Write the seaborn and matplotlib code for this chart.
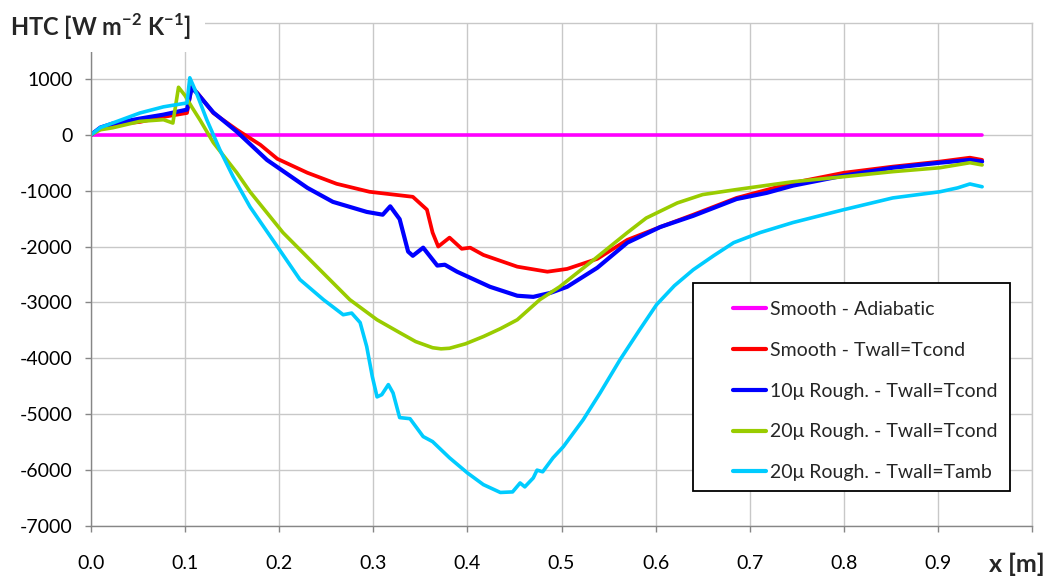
import matplotlib
matplotlib.use("Agg")
import matplotlib.pyplot as plt
import matplotlib.patches as mpatches
import pandas as pd
import seaborn as sns

# Series (x in m, HTC in W m-2 K-1)
labels = [
    "Smooth - Adiabatic",
    "Smooth - Twall=Tcond",
    "10\u03bc Rough. - Twall=Tcond",
    "20\u03bc Rough. - Twall=Tcond",
    "20\u03bc Rough. - Twall=Tamb",
]
colors = ["#FF00FF", "#FF0000", "#0000FF", "#99CC00", "#00CCFF"]
widths = [2.6, 2.7, 3.0, 2.6, 2.6]

x_adiabatic = [0.0, 0.947]
y_adiabatic = [0, 0]

x_smooth = [0.0, 0.01, 0.023, 0.052, 0.077, 0.102, 0.107, 0.113, 0.13, 0.155,
            0.18, 0.198, 0.23, 0.261, 0.296, 0.342, 0.357, 0.363, 0.369, 0.381,
            0.394, 0.403, 0.417, 0.453, 0.485, 0.506, 0.538, 0.57, 0.605, 0.64,
            0.686, 0.746, 0.80, 0.852, 0.902, 0.934, 0.947]
y_smooth = [0, 120, 180, 230, 320, 390, 860, 750, 390, 90,
            -180, -430, -680, -877, -1020, -1110, -1340, -1750, -2000, -1840,
            -2040, -2020, -2150, -2360, -2450, -2400, -2220, -1880, -1650, -1430,
            -1130, -860, -680, -570, -480, -410, -450]

x_rough10 = [0.0, 0.01, 0.023, 0.052, 0.077, 0.102, 0.107, 0.113, 0.13, 0.155,
             0.187, 0.23, 0.257, 0.293, 0.31, 0.318, 0.328, 0.337, 0.342, 0.353,
             0.368, 0.376, 0.389, 0.424, 0.453, 0.47, 0.488, 0.506, 0.538, 0.57,
             0.605, 0.64, 0.686, 0.718, 0.746, 0.80, 0.852, 0.902, 0.934, 0.947]
y_rough10 = [0, 130, 200, 290, 360, 450, 840, 740, 400, 55,
             -450, -950, -1200, -1380, -1430, -1280, -1510, -2090, -2165, -2020,
             -2340, -2325, -2450, -2720, -2880, -2900, -2830, -2720, -2380, -1930,
             -1650, -1450, -1150, -1040, -910, -730, -590, -500, -450, -480]

x_rough20 = [0.0, 0.01, 0.023, 0.052, 0.077, 0.087, 0.093, 0.1, 0.107, 0.116,
             0.13, 0.155, 0.169, 0.204, 0.24, 0.275, 0.304, 0.328, 0.345, 0.363,
             0.372, 0.381, 0.398, 0.417, 0.435, 0.453, 0.477, 0.498, 0.534, 0.57,
             0.59, 0.623, 0.65, 0.686, 0.746, 0.80, 0.852, 0.902, 0.934, 0.947]
y_rough20 = [0, 90, 125, 240, 270, 210, 850, 700, 500, 260,
             -140, -680, -1020, -1750, -2360, -2950, -3310, -3540, -3700, -3810,
             -3830, -3820, -3740, -3610, -3470, -3310, -2950, -2720, -2240, -1750,
             -1490, -1220, -1070, -980, -840, -750, -660, -590, -500, -540]

x_rough20_amb = [0.0, 0.01, 0.023, 0.052, 0.077, 0.102, 0.105, 0.112, 0.123, 0.137,
                 0.151, 0.169, 0.198, 0.222, 0.247, 0.268, 0.277, 0.286, 0.293, 0.299,
                 0.304, 0.309, 0.316, 0.321, 0.328, 0.339, 0.353, 0.363, 0.381, 0.40,
                 0.417, 0.435, 0.448, 0.456, 0.461, 0.47, 0.474, 0.48, 0.491, 0.502,
                 0.523, 0.541, 0.562, 0.583, 0.601, 0.62, 0.64, 0.662, 0.683, 0.711,
                 0.746, 0.80, 0.852, 0.902, 0.921, 0.934, 0.947]
y_rough20_amb = [0, 130, 210, 390, 500, 570, 1020, 750, 270, -270,
                 -750, -1290, -2000, -2590, -2950, -3220, -3190, -3360, -3790, -4330,
                 -4690, -4650, -4470, -4620, -5060, -5080, -5400, -5490, -5780, -6050,
                 -6260, -6400, -6390, -6230, -6300, -6140, -6000, -6030, -5780, -5580,
                 -5100, -4620, -4030, -3490, -3040, -2700, -2415, -2160, -1930, -1750,
                 -1570, -1340, -1130, -1020, -950, -880, -930]

xs = [x_adiabatic, x_smooth, x_rough10, x_rough20, x_rough20_amb]
ys = [y_adiabatic, y_smooth, y_rough10, y_rough20, y_rough20_amb]

frames = []
for lab, xv, yv in zip(labels, xs, ys):
    frames.append(pd.DataFrame({"x": xv, "htc": yv, "series": lab}))
df = pd.concat(frames, ignore_index=True)

x_ticks = [0.0, 0.1, 0.2, 0.3, 0.4, 0.5, 0.6, 0.7, 0.8, 0.9, 1.0]
x_ticklabels = ["0.0", "0.1", "0.2", "0.3", "0.4", "0.5", "0.6", "0.7", "0.8", "0.9", ""]
y_ticks = [-7000, -6000, -5000, -4000, -3000, -2000, -1000, 0, 1000]

sns.set_style("white")
plt.rcParams["font.family"] = ["Lato", "DejaVu Sans"]
plt.rcParams["axes.unicode_minus"] = False
plt.rcParams["mathtext.fontset"] = "custom"
plt.rcParams["mathtext.rm"] = "Lato"
plt.rcParams["mathtext.bf"] = "Lato:bold"

fig = plt.figure(figsize=(10.47, 5.8), dpi=100)
ax = fig.add_axes([91 / 1047, 1 - 526 / 580, 941 / 1047, 503 / 580])

sns.lineplot(
    data=df, x="x", y="htc", hue="series", hue_order=labels,
    palette=colors, estimator=None, sort=False, linewidth=2.6, ax=ax,
)
for line, lw in zip(ax.lines, widths):
    line.set_linewidth(lw)

ax.set_xlim(0, 1.0)
ax.set_ylim(-7000, 2000)
ax.set_xticks(x_ticks)
ax.set_xticklabels(x_ticklabels)
ax.set_yticks(y_ticks)
ax.set_yticklabels([str(v) for v in y_ticks])
ax.set_xlabel("")
ax.set_ylabel("")

ax.grid(True, color="#C8C8C8", linewidth=1.0)
ax.set_axisbelow(True)
for side in ["top", "right"]:
    ax.spines[side].set_color("#C8C8C8")
    ax.spines[side].set_linewidth(1.0)
for side in ["left", "bottom"]:
    ax.spines[side].set_color("#868686")
    ax.spines[side].set_linewidth(1.0)

ax.tick_params(axis="both", direction="out", length=4, width=1.0,
               color="#868686", labelsize=14, labelcolor="black")
ax.tick_params(axis="x", pad=17)
ax.tick_params(axis="y", pad=9)
ax.tick_params(bottom=True, left=True)

# legend: separate frame, entries placed inside it
ax.add_patch(mpatches.Rectangle((0.6397, 0.0696), 0.3369, 0.4135,
                                transform=ax.transAxes, facecolor="white",
                                edgecolor="black", linewidth=1.3, zorder=4))
ax.legend(
    loc="upper left", bbox_to_anchor=(0.682, 0.447),
    fontsize=14, frameon=False, handlelength=1.7, handletextpad=0.2,
    labelspacing=1.22, borderpad=0, borderaxespad=0,
)
leg = ax.get_legend()
leg.set_zorder(5)
for line in leg.get_lines():
    line.set_linewidth(3.0)

# white box behind the axis title, top-left
fig.add_artist(mpatches.Rectangle((0, 1 - 52 / 580), 205 / 1047, 52 / 580,
                                  transform=fig.transFigure, facecolor="white",
                                  edgecolor="none", zorder=5))
fig.text(10 / 1047, 1 - 27 / 580, r"HTC [W m$^{\mathbf{-2}}$ K$^{\mathbf{-1}}$]",
         fontsize=17, fontweight="bold", ha="left", va="center", zorder=6)
fig.text(1045 / 1047, 1 - 564 / 580, "x [m]", fontsize=18, fontweight="bold",
         ha="right", va="center")

fig.savefig("out.png", dpi=100)
